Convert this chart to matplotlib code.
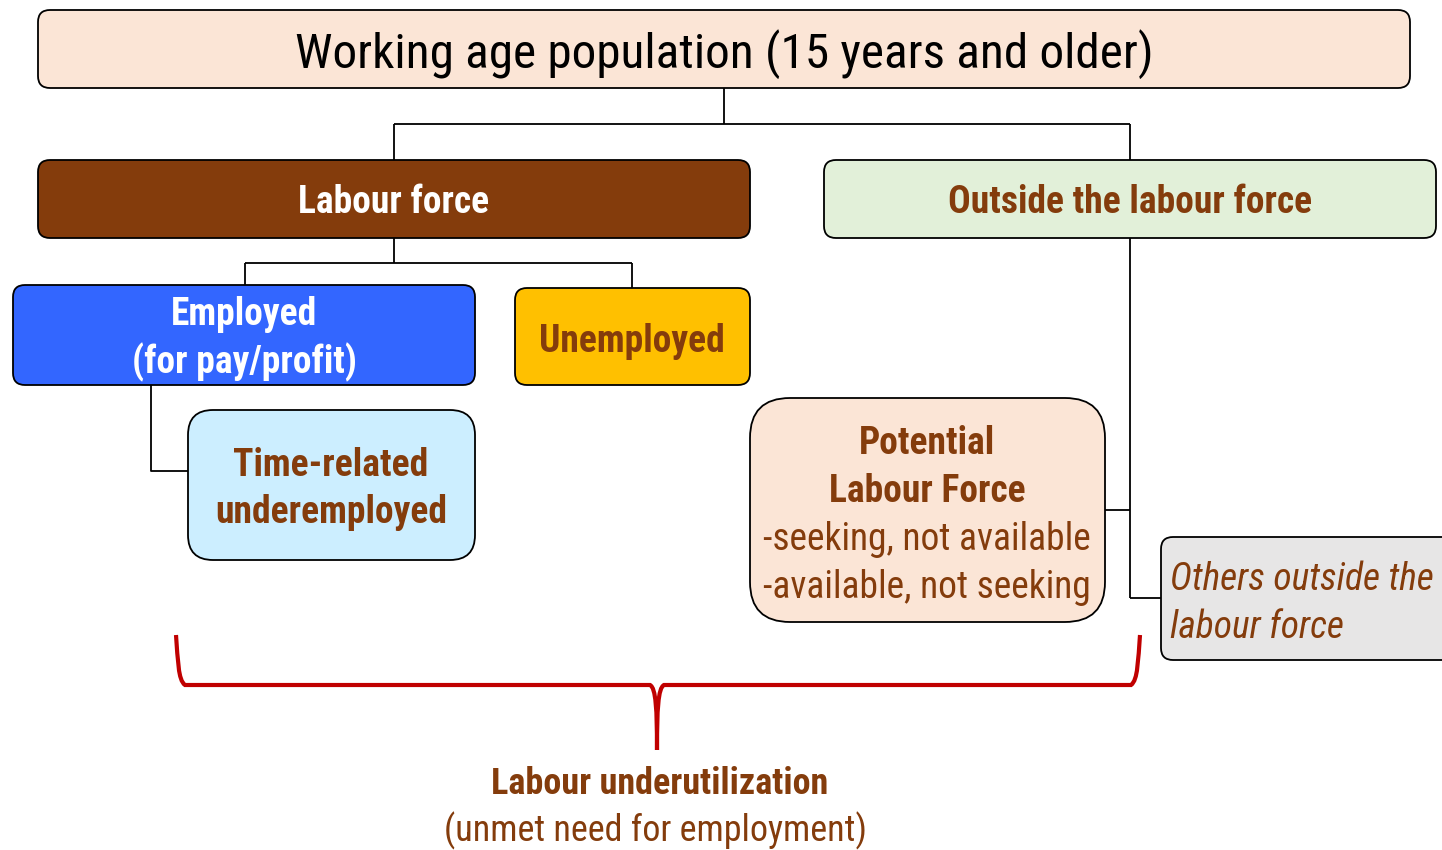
import matplotlib
matplotlib.use('Agg')
import matplotlib.pyplot as plt
from matplotlib.patches import FancyBboxPatch
from matplotlib.path import Path
from matplotlib.patches import PathPatch
from matplotlib import font_manager

# ------------------ labels ------------------
TOP_LABEL = 'Working age population (15 years and older)'
LF_LABEL = 'Labour force'
OLF_LABEL = 'Outside the labour force'
EMP_LABEL = 'Employed\n(for pay/profit)'
UNEMP_LABEL = 'Unemployed'
TRU_LABEL = 'Time-related\nunderemployed'
PLF_TITLE = ['Potential', 'Labour Force']
PLF_LINES = ['-seeking, not available', '-available, not seeking']
OTHERS_LINES = ['Others outside the', 'labour force']
BOTTOM_TITLE = 'Labour underutilization'
BOTTOM_SUB = '(unmet need for employment)'
# --------------------------------------------

BROWN = '#843C0C'
RED = '#C00000'

installed = {f.name for f in font_manager.fontManager.ttflist}
FAMILY = 'DejaVu Sans'
for cand in ['Liberation Sans Narrow', 'Arial Narrow', 'Roboto Condensed']:
    if cand in installed:
        FAMILY = cand
        break
plt.rcParams['font.family'] = [FAMILY, 'DejaVu Sans']

fig = plt.figure(figsize=(14.42, 8.5), dpi=100)
ax = fig.add_axes([0, 0, 1, 1])
ax.set_xlim(0, 1442)
ax.set_ylim(850, 0)
ax.axis('off')


def box(x0, y0, x1, y1, fc, r=12):
    p = FancyBboxPatch((x0, y0), x1 - x0, y1 - y0,
                       boxstyle=f'round,pad=0,rounding_size={r}',
                       fc=fc, ec='black', lw=1.3, zorder=2)
    ax.add_patch(p)


def line(xs, ys):
    ax.plot(xs, ys, color='black', lw=1.3, zorder=1, solid_capstyle='butt')


# connectors
line([724, 724], [88, 124])
line([394, 1130], [124, 124])
line([394, 394], [124, 160])
line([1130, 1130], [124, 160])
line([394, 394], [238, 263])
line([245, 632], [263, 263])
line([245, 245], [263, 285])
line([632, 632], [263, 288])
line([151, 151, 188], [385, 471, 471])
line([1130, 1130], [238, 598])
line([1105, 1130], [510, 510])
line([1130, 1161], [598, 598])

# boxes
box(38, 10, 1410, 88, '#FBE5D6')
ax.text(724, 54, TOP_LABEL, ha='center', va='center', fontsize=35.5, zorder=3)

box(38, 160, 750, 238, BROWN)
ax.text(394, 202, LF_LABEL, ha='center', va='center', fontsize=27,
        fontweight='bold', color='white', zorder=3)

box(824, 160, 1436, 238, '#E2F0D9')
ax.text(1130, 202, OLF_LABEL, ha='center', va='center', fontsize=27,
        fontweight='bold', color=BROWN, zorder=3)

box(13, 285, 475, 385, '#3366FF')
ax.text(244, 339, EMP_LABEL, ha='center', va='center', fontsize=27,
        fontweight='bold', color='white', linespacing=1.32, zorder=3)

box(515, 288, 750, 385, '#FFC000')
ax.text(632, 341, UNEMP_LABEL, ha='center', va='center', fontsize=27,
        fontweight='bold', color=BROWN, zorder=3)

box(188, 410, 475, 560, '#CCEEFF', r=25)
ax.text(331, 489, TRU_LABEL, ha='center', va='center', fontsize=27,
        fontweight='bold', color=BROWN, linespacing=1.32, zorder=3)

box(750, 398, 1105, 622, '#FBE5D6', r=40)
plf_y = [443, 491, 539, 587]
for y, s in zip(plf_y, PLF_TITLE + PLF_LINES):
    bold = s in PLF_TITLE
    ax.text(927, y, s, ha='center', va='center', fontsize=27,
            fontweight='bold' if bold else 'normal', color=BROWN, zorder=3)

box(1161, 537, 1460, 660, '#E7E6E6')
for y, s in zip([579, 627], OTHERS_LINES):
    ax.text(1170, y, s, ha='left', va='center', fontsize=27,
            style='italic', color=BROWN, zorder=3)

# red brace
verts = [(176, 635), (178, 660), (178, 680), (185, 685),
         (650, 685), (656, 688), (657, 710), (657, 750)]
codes = [Path.MOVETO, Path.CURVE4, Path.CURVE4, Path.CURVE4,
         Path.LINETO, Path.CURVE4, Path.CURVE4, Path.CURVE4]
ax.add_patch(PathPatch(Path(verts, codes), fc='none', ec=RED, lw=3, zorder=2))
verts = [(1140, 635), (1138, 660), (1138, 680), (1131, 685),
         (664, 685), (658, 688), (657, 710), (657, 750)]
ax.add_patch(PathPatch(Path(verts, codes), fc='none', ec=RED, lw=3, zorder=2))

ax.text(660, 784, BOTTOM_TITLE, ha='center', va='center', fontsize=26,
        fontweight='bold', color=BROWN)
ax.text(656, 831, BOTTOM_SUB, ha='center', va='center', fontsize=26,
        color=BROWN)

fig.savefig('out.png', dpi=100)
